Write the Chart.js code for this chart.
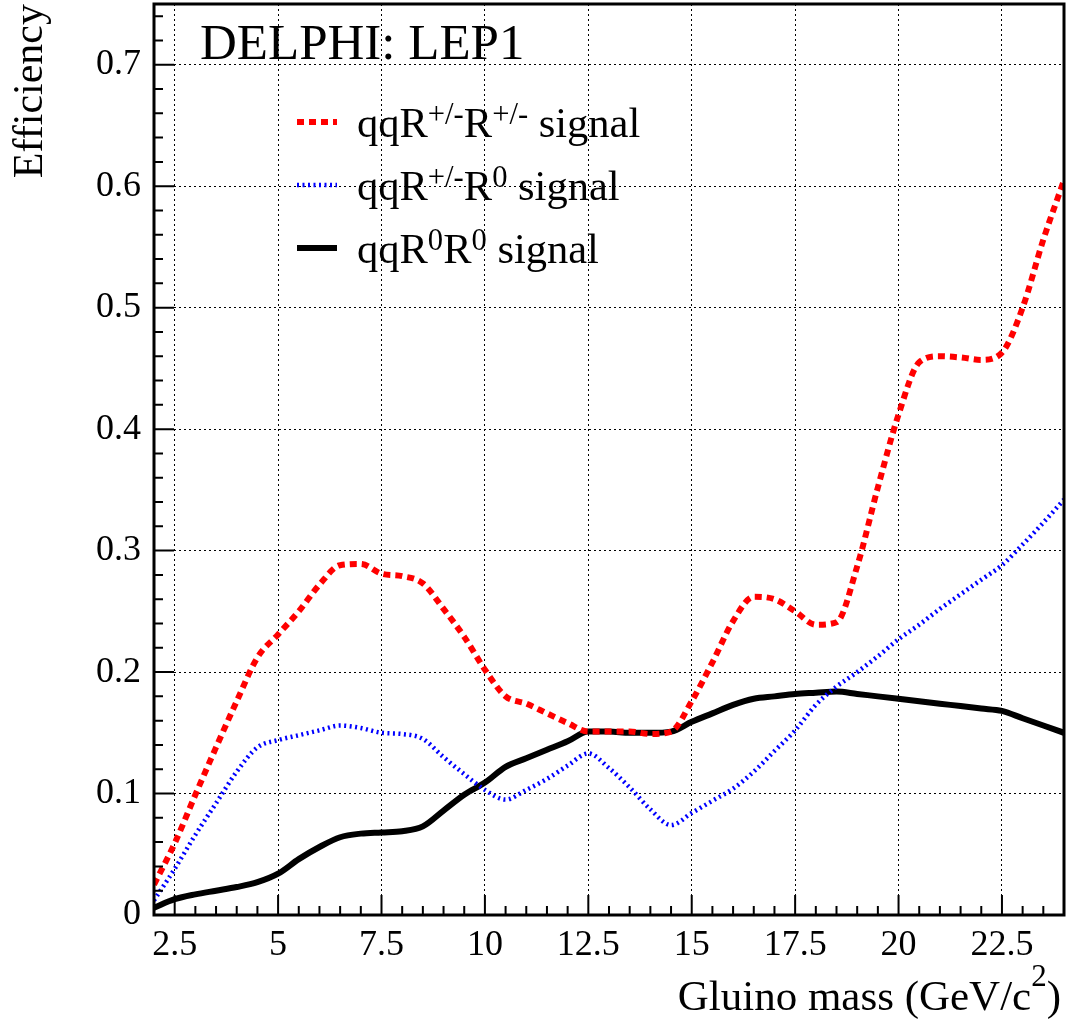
<!DOCTYPE html>
<html>
<head>
<meta charset="utf-8">
<script src="https://cdn.jsdelivr.net/npm/chart.js@4.4.1/dist/chart.umd.min.js"></script>
<style>
  html, body { margin: 0; padding: 0; background: #fff; }
</style>
</head>
<body>
<canvas id="eff-chart" width="1069" height="1024"></canvas>
<script>
// gluino mass points (GeV/c^2) the curves were read at
const masses = [2, 2.5, 3, 3.5, 4, 4.5, 5, 5.5, 6, 6.5, 7, 7.5, 8, 8.5, 9, 9.5, 10, 10.5, 11, 11.5,
  12, 12.5, 13, 13.5, 14, 14.5, 15, 15.5, 16, 16.5, 17, 17.5, 18, 18.5, 19, 19.5, 20, 20.5, 21, 21.5,
  22, 22.5, 23, 23.5, 24];

// qqR+/-R+/- signal (red dashed)
const effChargedCharged = [0.025, 0.059, 0.099, 0.138, 0.176, 0.212, 0.231, 0.250, 0.272, 0.288,
  0.289, 0.281, 0.279, 0.273, 0.252, 0.229, 0.202, 0.180, 0.174, 0.166,
  0.158, 0.151, 0.151, 0.151, 0.149, 0.151, 0.176, 0.208, 0.242, 0.262,
  0.260, 0.250, 0.239, 0.241, 0.287, 0.352, 0.412, 0.455, 0.460, 0.459,
  0.457, 0.463, 0.500, 0.556, 0.605];

// qqR+/-R0 signal (blue dotted)
const effChargedNeutral = [0.012, 0.038, 0.066, 0.092, 0.118, 0.138, 0.144, 0.148, 0.152, 0.156,
  0.154, 0.150, 0.149, 0.145, 0.130, 0.116, 0.103, 0.095, 0.103, 0.112,
  0.123, 0.133, 0.121, 0.105, 0.087, 0.074, 0.084, 0.094, 0.104, 0.118,
  0.135, 0.152, 0.173, 0.188, 0.200, 0.213, 0.227, 0.239, 0.252, 0.264,
  0.276, 0.288, 0.305, 0.323, 0.342];

// qqR0R0 signal (black solid)
const effNeutralNeutral = [0.006, 0.013, 0.017, 0.020, 0.023, 0.027, 0.034, 0.046, 0.056, 0.064,
  0.067, 0.068, 0.069, 0.073, 0.086, 0.099, 0.109, 0.122, 0.129, 0.136,
  0.143, 0.151, 0.151, 0.150, 0.150, 0.151, 0.159, 0.166, 0.173, 0.178,
  0.180, 0.182, 0.183, 0.184, 0.182, 0.180, 0.178, 0.176, 0.174, 0.172,
  0.170, 0.168, 0.162, 0.156, 0.150];

const xTicks = [2.5, 5, 7.5, 10, 12.5, 15, 17.5, 20, 22.5];
const yTicks = [0, 0.1, 0.2, 0.3, 0.4, 0.5, 0.6, 0.7];

// ^{...} marks a superscript
const seriesLabels = ['qqR^{+/-}R^{+/-} signal', 'qqR^{+/-}R^{0} signal', 'qqR^{0}R^{0} signal'];
const plotTitle = 'DELPHI: LEP1';
const xTitle = 'Gluino mass (GeV/c^{2})';
const yTitle = 'Efficiency';

const SERIF = '"Liberation Serif", "Times New Roman", serif';

function toPoints(vals) {
  return masses.map((m, i) => ({ x: m, y: vals[i] }));
}

// writes text with ^{} superscripts (or just measures it), returns end x
function drawRich(ctx, str, x, y, size, raise, measureOnly) {
  const parts = str.split(/(\^\{[^}]*\})/).filter(Boolean);
  parts.forEach(p => {
    const sup = p.startsWith('^{');
    const t = sup ? p.slice(2, -1) : p;
    ctx.font = (sup ? size * 0.72 : size) + 'px ' + SERIF;
    if (!measureOnly) ctx.fillText(t, x, sup ? y - size * raise : y);
    x += ctx.measureText(t).width;
  });
  return x;
}

// frame + inward ticks like the ROOT original
const frameTicks = {
  id: 'frameTicks',
  afterDatasetsDraw(chart) {
    const { ctx, chartArea: a, scales: { x, y } } = chart;
    ctx.save();
    ctx.strokeStyle = '#000';
    ctx.lineWidth = 2;
    ctx.beginPath();
    for (let k = 4; k <= 48; k++) {
      const px = x.getPixelForValue(k * 0.5);
      const len = (k % 5 === 0) ? 20 : 9;
      ctx.moveTo(px, a.bottom);
      ctx.lineTo(px, a.bottom - len);
    }
    for (let k = 0; k <= 37; k++) {
      const py = y.getPixelForValue(k * 0.02);
      const len = (k % 5 === 0) ? 20 : 9;
      ctx.moveTo(a.left, py);
      ctx.lineTo(a.left + len, py);
    }
    ctx.stroke();
    ctx.lineWidth = 3;
    ctx.strokeRect(a.left, a.top, a.right - a.left, a.bottom - a.top);
    ctx.restore();
  }
};

// title, axis title with superscript, legend with superscripts
const richText = {
  id: 'richText',
  afterDraw(chart) {
    const { ctx, chartArea: a } = chart;
    ctx.save();
    ctx.fillStyle = '#000';
    ctx.textBaseline = 'alphabetic';
    ctx.font = '51px ' + SERIF;
    ctx.fillText(plotTitle, 200, 59);

    // x axis title, right aligned to the frame
    const w = drawRich(ctx, xTitle, 0, 0, 43, 0.55, true);
    drawRich(ctx, xTitle, a.right - 3 - w, 1010, 43, 0.55, false);

    const rowY = [137, 200, 263];
    chart.data.datasets.forEach((ds, i) => {
      const midY = rowY[i] - 15;
      ctx.save();
      ctx.strokeStyle = ds.borderColor;
      ctx.lineWidth = ds.borderWidth;
      ctx.setLineDash(ds.borderDash || []);
      ctx.beginPath();
      ctx.moveTo(297, midY);
      ctx.lineTo(337, midY);
      ctx.stroke();
      ctx.restore();
      drawRich(ctx, seriesLabels[i], 357, rowY[i], 42.5, 0.3, false);
    });
    ctx.restore();
  }
};

const ctx = document.getElementById('eff-chart').getContext('2d');

new Chart(ctx, {
  type: 'line',
  data: {
    datasets: [
      {
        label: seriesLabels[0],
        data: toPoints(effChargedCharged),
        borderColor: '#ff0000',
        borderWidth: 6,
        borderDash: [7, 5]
      },
      {
        label: seriesLabels[1],
        data: toPoints(effChargedNeutral),
        borderColor: '#0000ff',
        borderWidth: 4.5,
        borderDash: [2, 3.5]
      },
      {
        label: seriesLabels[2],
        data: toPoints(effNeutralNeutral),
        borderColor: '#000000',
        borderWidth: 6
      }
    ]
  },
  options: {
    responsive: false,
    devicePixelRatio: 1,
    animation: false,
    layout: { padding: { left: 0, right: 5, top: 4, bottom: 0 } },
    elements: {
      point: { radius: 0 },
      line: { cubicInterpolationMode: 'monotone', fill: false }
    },
    plugins: {
      legend: { display: false },
      title: { display: false },
      tooltip: { enabled: false }
    },
    scales: {
      x: {
        type: 'linear',
        min: 2,
        max: 24,
        afterBuildTicks: s => { s.ticks = xTicks.map(v => ({ value: v })); },
        afterFit: s => { s.height = 109; s.paddingLeft = 0; s.paddingRight = 0; },
        grid: { color: '#000', lineWidth: 1, drawTicks: false },
        border: { display: false, dash: [2, 3] },
        ticks: {
          padding: 9,
          color: '#000',
          maxRotation: 0,
          font: { family: SERIF, size: 36 },
          callback: v => String(v)
        }
      },
      y: {
        min: 0,
        max: 0.75,
        afterBuildTicks: s => { s.ticks = yTicks.map(v => ({ value: v })); },
        afterFit: s => { s.width = 154; s.paddingTop = 0; s.paddingBottom = 0; },
        grid: { color: '#000', lineWidth: 1, drawTicks: false },
        border: { display: false, dash: [2, 3] },
        ticks: {
          padding: 13,
          color: '#000',
          font: { family: SERIF, size: 36 },
          callback: v => String(v)
        },
        title: {
          display: true,
          text: yTitle,
          align: 'end',
          color: '#000',
          font: { family: SERIF, size: 42 },
          padding: { top: 6, bottom: 0 }
        }
      }
    }
  },
  plugins: [frameTicks, richText]
});
</script>
</body>
</html>
